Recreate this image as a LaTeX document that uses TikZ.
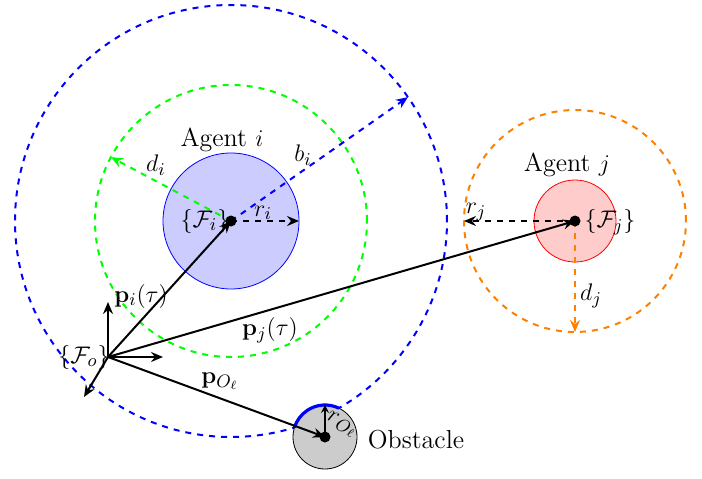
\documentclass[tikz,border=0pt]{standalone}
\usetikzlibrary{arrows.meta}
\begin{document}
\begin{tikzpicture}[x=0.5pt,y=0.5pt,
  every node/.style={font=\fontsize{13}{15.5}\selectfont},
  vec/.style={line width=1pt,-{Stealth[length=6pt,width=5pt,inset=2pt]}},
  dvec/.style={line width=1pt,dashed,-{Stealth[length=6pt,width=5pt,inset=2pt]}},
  ring/.style={line width=1pt,dashed},
  dot/.style={circle,fill=black,inner sep=0pt,minimum size=5.5pt}]
\useasboundingbox (0,0) rectangle (702,478);
% centres
\coordinate (A) at (231,257);
\coordinate (J) at (575,257);
\coordinate (O) at (325,41);
\coordinate (F) at (108,121);
% agent i
\fill[blue!20] (A) circle[radius=34pt];
\draw[blue] (A) circle[radius=34pt];
\draw[ring,green] (A) circle[radius=68pt];
\draw[ring,blue] (A) circle[radius=108pt];
% agent j
\fill[red!20] (J) circle[radius=20.5pt];
\draw[red] (J) circle[radius=20.5pt];
\draw[ring,orange] (J) circle[radius=55.5pt];
% obstacle
\fill[black!20] (O) circle[radius=16pt];
\draw (O) circle[radius=16pt];
\draw[blue,line width=1.6pt] ([shift={(64:16pt)}]O) arc[start angle=64,end angle=163,radius=16pt];
% radii
\coordinate (bi) at ([shift={(35:108pt)}]A);
\coordinate (di) at ([shift={(152:68pt)}]A);
\coordinate (ri) at ([shift={(0:34pt)}]A);
\coordinate (rj) at ([shift={(180:55.5pt)}]J);
\coordinate (dj) at ([shift={(270:55.5pt)}]J);
\coordinate (ro) at ([shift={(90:16pt)}]O);
\draw[dvec,blue] (A) -- (bi);
\draw[dvec,green] (A) -- (di);
\draw[dvec] (A) -- (ri);
\draw[dvec] (J) -- (rj);
\draw[dvec,orange] (J) -- (dj);
\draw[vec,-{Stealth[length=4pt,width=4pt,inset=1.5pt]}] (O) -- (ro);
% frame
\coordinate (Fx) at (163,121);
\coordinate (Fy) at (108,176);
\coordinate (Fz) at (84,81);
\draw[vec] (F) -- (Fx);
\draw[vec] (F) -- (Fy);
\draw[vec] (F) -- (Fz);
\draw[vec] (F) -- (A);
\draw[vec] (F) -- (J);
\draw[vec] (F) -- (O);
% dots
\node[dot] (Ad) at (A) {};
\node[dot] (Jd) at (J) {};
\node[dot] (Od) at (O) {};
% labels
\node (lAi) at (222,338) {Agent $i$};
\node (lFi) at (205,257) {$\{\mathcal{F}_i\}$};
\node (lri) at (263,265) {$r_i$};
\node (lbi) at (303,323) {$b_i$};
\node (ldi) at (156,313) {$d_i$};
\node (lAj) at (567,313) {Agent $j$};
\node (lFj) at (610,256) {$\{\mathcal{F}_j\}$};
\node (lrj) at (476,266) {$r_j$};
\node (ldj) at (591,182) {$d_j$};
\node (lpi) at (141,182) {$\mathbf{p}_i(\tau)$};
\node (lpj) at (270,148) {$\mathbf{p}_j(\tau)$};
\node (lpo) at (220,97) {$\mathbf{p}_{O_\ell}$};
\node (lFo) at (84,121) {$\{\mathcal{F}_o\}$};
\node (lob) at (416,38) {Obstacle};
\node[rotate=-25,inner sep=1pt] (lro) at (342,53) {$r_{O_\ell}$};
\end{tikzpicture}
\end{document}
